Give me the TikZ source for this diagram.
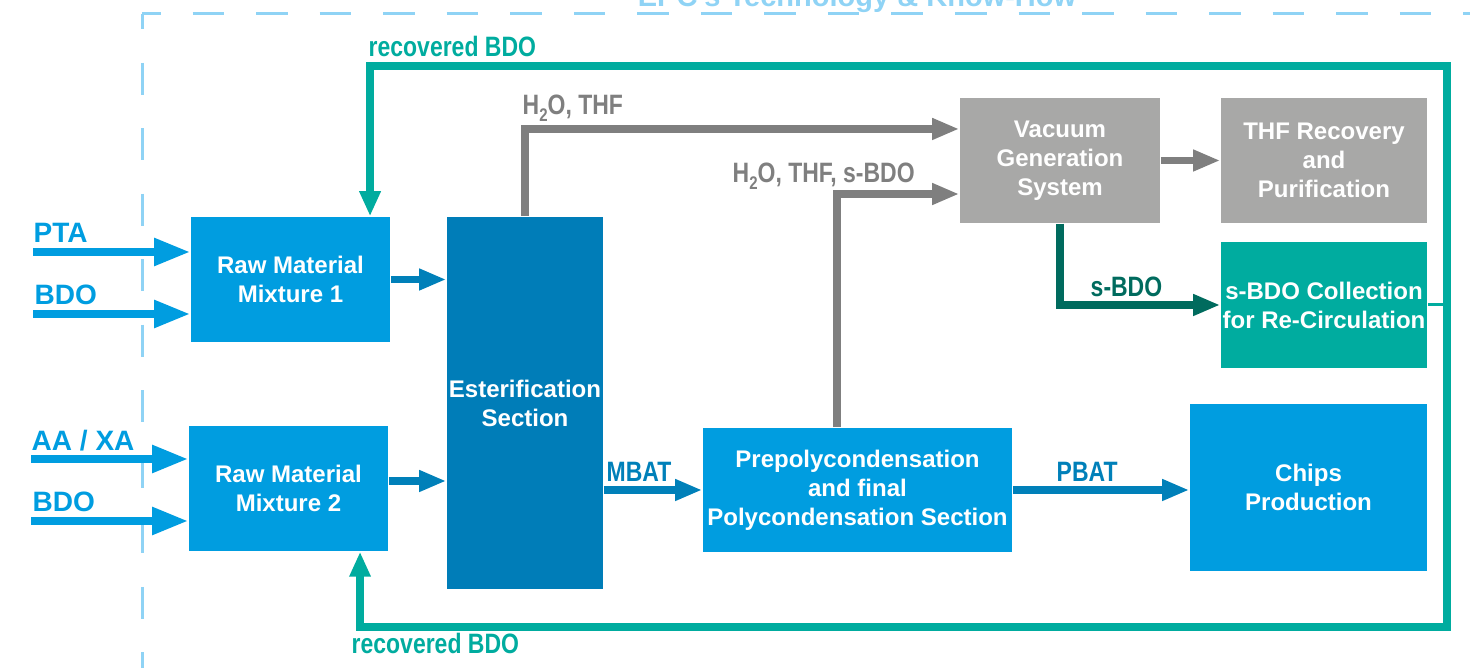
\documentclass[tikz,border=0pt]{standalone}
\usepackage{fontspec}
\setmainfont{Liberation Sans}
\newfontfamily\narrowfont[FakeStretch=0.82]{Liberation Sans}
\usetikzlibrary{arrows.meta}
\definecolor{boxblue}{HTML}{009DE0}
\definecolor{estblue}{HTML}{007DB8}
\definecolor{arrblue}{HTML}{0080B9}
\definecolor{boxgray}{HTML}{A8A8A7}
\definecolor{arrgray}{HTML}{7F7F7F}
\definecolor{recteal}{HTML}{00AC9F}
\definecolor{darkteal}{HTML}{006B5E}
\definecolor{framebl}{HTML}{8FD3F5}
\newcommand{\lowtwo}{\raisebox{-0.45ex}{\fontsize{5.2}{6}\selectfont 2}}
\begin{document}
\begin{tikzpicture}[x=0.01cm,y=-0.01cm,
  procbox/.style={fill=#1,text=white,inner sep=0pt,align=center,
    font=\fontsize{6.83}{8.25}\selectfont\bfseries},
  feedarrow/.style={line width=0.08cm,boxblue,-{Triangle[length=0.36cm,width=0.26cm]}},
  flowarrow/.style={line width=0.075cm,#1,-{Triangle[length=0.27cm,width=0.2cm]}},
  lbl/.style={inner sep=0pt,anchor=base west,text=#1,
    font=\fontsize{7.97}{9}\selectfont\narrowfont\bfseries},
  feedlbl/.style={inner sep=0pt,anchor=base west,text=boxblue,
    font=\fontsize{7.97}{9}\selectfont\bfseries}]
\useasboundingbox (0,0) rectangle (1470,668);

\node[anchor=base,inner sep=0pt,text=framebl,font=\fontsize{8.25}{10}\selectfont\bfseries]
  (title) at (857,7) {EPC's Technology \& Know-How};
\draw[framebl,line width=0.03cm,dash pattern=on 0.315cm off 0.32cm,dash phase=0.13cm]
  (142,14) -- (1480,14);
\draw[framebl,line width=0.03cm,dash pattern=on 0.32cm off 0.335cm,dash phase=0.17cm]
  (142,14) -- (142,680);

\node[procbox=boxblue,minimum width=1.99cm,minimum height=1.25cm] (mix1) at (290.5,279.5) {Raw Material\\Mixture 1};
\node[procbox=boxblue,minimum width=1.99cm,minimum height=1.25cm] (mix2) at (288.5,488.5) {Raw Material\\Mixture 2};
\node[procbox=estblue,minimum width=1.56cm,minimum height=3.72cm] (ester) at (525,403) {Esterification\\Section};
\node[procbox=boxblue,minimum width=3.09cm,minimum height=1.24cm] (poly) at (857.5,490)
  {Prepolycondensation\\and final\\Polycondensation Section};
\node[procbox=boxgray,minimum width=2cm,minimum height=1.25cm] (vacuum) at (1060,160.5) {Vacuum\\Generation\\System};
\node[procbox=boxgray,minimum width=2.06cm,minimum height=1.25cm] (thf) at (1324,160.5) {THF Recovery\\and\\Purification};
\node[procbox=recteal,minimum width=2.06cm,minimum height=1.26cm] (sbdo) at (1324,305) {s-BDO Collection\\for Re-Circulation};
\node[procbox=boxblue,minimum width=2.37cm,minimum height=1.67cm] (chips) at (1308.5,487.5) {Chips\\Production};

\coordinate (pta) at (33,252);
\coordinate (bdoa) at (33,314);
\coordinate (aaxa) at (31,459);
\coordinate (bdob) at (31,521);
\draw[feedarrow] (pta) -- (pta -| mix1.west);
\draw[feedarrow] (bdoa) -- (bdoa -| mix1.west);
\draw[feedarrow] (aaxa) -- (aaxa -| mix2.west);
\draw[feedarrow] (bdob) -- (bdob -| mix2.west);
\node[feedlbl] (ptal) at (33,243) {PTA};
\node[feedlbl] (bdoal) at (34,305) {BDO};
\node[feedlbl] (aaxal) at (31,451) {AA / XA};
\node[feedlbl] (bdobl) at (32,512) {BDO};

\draw[flowarrow=arrblue] (mix1.east) -- (mix1.east -| ester.west);
\draw[flowarrow=arrblue] ([yshift=0.075cm]mix2.east) -- ([yshift=0.075cm]mix2.east -| ester.west);
\draw[flowarrow=arrblue] (poly.west -| ester.east) -- (poly.west);
\draw[flowarrow=arrblue] (poly.east) -- (poly.east -| chips.west);
\draw[flowarrow=arrgray] (ester.north) |- ([yshift=0.315cm]vacuum.west);
\draw[flowarrow=arrgray] ([xshift=-0.205cm]poly.north) |- ([yshift=-0.335cm]vacuum.west);
\draw[flowarrow=arrgray] (vacuum.east) -- (thf.west);
\draw[flowarrow=darkteal] (vacuum.south) |- (sbdo.west);

\coordinate (loopne) at (1447,66);
\coordinate (loopse) at (1447,627);
\draw[line width=0.08cm,recteal,{Triangle[length=0.25cm,width=0.2cm]}-{Triangle[length=0.25cm,width=0.2cm]}]
  ([xshift=0.795cm]mix1.north) |- (loopne) -- (loopse) -| ([xshift=0.715cm]mix2.south);
\draw[line width=0.03cm,recteal] (sbdo.east) -- (sbdo.east -| loopne);

\node[lbl=recteal] (rectop) at (368,57) {recovered BDO};
\node[lbl=recteal] (recbot) at (351,654) {recovered BDO};
\node[lbl=arrgray] (gasa) at (522,115) {H\lowtwo O, THF};
\node[lbl=arrgray] (gasb) at (732,183) {H\lowtwo O, THF, s-BDO};
\node[lbl=arrblue] (mbat) at (606,482) {MBAT};
\node[lbl=arrblue] (pbat) at (1056,482) {PBAT};
\node[lbl=darkteal] (sbdol) at (1090,297) {s-BDO};
\end{tikzpicture}
\end{document}
